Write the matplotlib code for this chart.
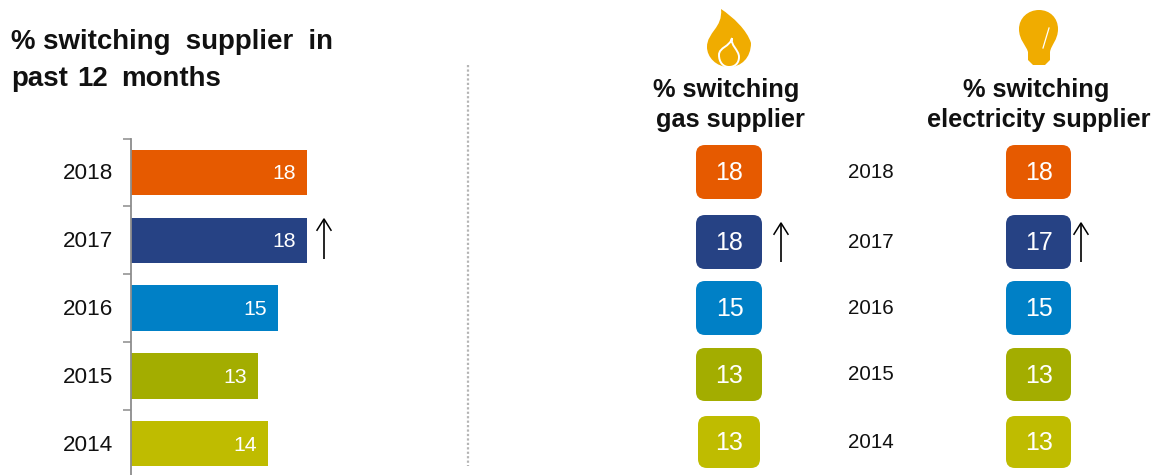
import matplotlib
matplotlib.use('Agg')
import matplotlib.pyplot as plt
from matplotlib.patches import FancyBboxPatch, PathPatch
from matplotlib.path import Path

plt.rcParams['font.family'] = ['Liberation Sans', 'DejaVu Sans']

years = ['2018', '2017', '2016', '2015', '2014']
overall = [18, 18, 15, 13, 14]
gas = [18, 18, 15, 13, 13]
electricity = [18, 17, 15, 13, 13]
colors = ['#E65A00', '#264284', '#0080C6', '#A3AD00', '#BFBC00']
icon_color = '#F0AC00'

W, H = 1161, 475
fig = plt.figure(figsize=(W / 100, H / 100), dpi=100)

# --------- Bar chart on the left ---------
# axes runs slightly past the bottom edge, same as the reference
ax = fig.add_axes([131 / W, -2.6 / H, 176 / W, 339 / H])
ax.barh(years, overall, height=0.67, color=colors)
ax.set_xlim(0, 18)
ax.set_ylim(4.5, -0.5)
for s in ['top', 'right', 'bottom']:
    ax.spines[s].set_visible(False)
ax.spines['left'].set_color('#8C8C8C')
ax.spines['left'].set_linewidth(1.3)
ax.set_xticks([])
ax.set_yticks([i - 0.5 for i in range(6)], minor=False)
ax.set_yticklabels([])
ax.tick_params(axis='y', length=5.5, color='#8C8C8C', width=1.1)
for i, y in enumerate(years):
    ax.text(-1.8, i + 0.02, y, ha='right', va='center', fontsize=16.2, color='#111111')
    ax.text(overall[i] - 1.1, i + 0.02, str(overall[i]), ha='right', va='center',
            fontsize=15.3, color='white')

# --------- Everything else in pixel coordinates ---------
ov = fig.add_axes([0, 0, 1, 1], facecolor='none')
ov.set_xlim(0, W)
ov.set_ylim(H, 0)
ov.axis('off')

ov.text(11, 42, '% switching  supplier  in', fontsize=19.9, fontweight='bold',
        ha='left', va='center', color='#111111')
# second title line has stretched word gaps
ov.text(11, 78.5, 'past', fontsize=19.9, fontweight='bold', ha='left', va='center', color='#111111')
ov.text(77, 78.5, '12', fontsize=19.9, fontweight='bold', ha='left', va='center', color='#111111')
ov.text(221, 78.5, 'months', fontsize=19.9, fontweight='bold', ha='right', va='center', color='#111111')

ov.plot([468, 468], [65, 466], color='#B5B5B5', lw=1.6, ls=(0, (1, 1)))

ov.text(726, 90, '% switching', fontsize=18.3, fontweight='bold', ha='center',
        va='center', color='#111111')
ov.text(730, 120, 'gas supplier', fontsize=18.3, fontweight='bold', ha='center',
        va='center', color='#111111')
ov.text(1036, 90, '% switching', fontsize=18.3, fontweight='bold', ha='center',
        va='center', color='#111111')
ov.text(1039, 120, 'electricity supplier', fontsize=18.3, fontweight='bold', ha='center',
        va='center', color='#111111')

box_tops = [145, 215, 281, 348, 416]
box_bottoms = [199, 269, 335, 401, 468]
year_y = [172, 242, 309, 375, 442]


def add_box(x0, x1, y0, y1, color, val):
    p = FancyBboxPatch((x0 + 9, y0 + 9), x1 - x0 - 18, y1 - y0 - 18,
                       boxstyle='round,pad=9,rounding_size=9', fc=color, ec='none')
    ov.add_patch(p)
    ov.text((x0 + x1) / 2 + 0.5, (y0 + y1) / 2 + 1.5, str(val), ha='center', va='center',
            fontsize=18, color='white')


for i, y in enumerate(years):
    gx0, gx1 = (698, 760) if i == 4 else (696, 762)
    add_box(gx0, gx1, box_tops[i], box_bottoms[i], colors[i], gas[i])
    add_box(1006, 1071, box_tops[i], box_bottoms[i], colors[i], electricity[i])
    ov.text(848, year_y[i], y, ha='left', va='center', fontsize=14.9, color='#111111')


def up_arrow(x, y0, y1, head):
    ov.plot([x, x], [y0, y1], color='black', lw=1.2, solid_capstyle='butt')
    ov.plot([x - head, x, x + head], [y1 + head * 1.6, y1, y1 + head * 1.6],
            color='black', lw=1.1)


up_arrow(324, 259, 219, 7)
up_arrow(781, 262, 223, 7)
up_arrow(1081, 262, 223, 7)

# flame icon
flame = Path(
    [(721, 9), (733, 17), (747, 30), (751, 43), (751, 58), (741, 67), (729, 67),
     (716, 67), (707, 57), (707, 47), (707, 32), (723, 28), (721, 9)],
    [Path.MOVETO] + [Path.CURVE4] * 12)
ov.add_patch(PathPatch(flame, fc=icon_color, ec='none'))
inner = Path(
    [(732, 38), (730, 45), (739, 50), (739, 57), (739, 63), (735, 67), (729, 67),
     (723, 67), (719, 62), (719, 55), (719, 47), (730, 47), (732, 38)],
    [Path.MOVETO] + [Path.CURVE4] * 12)
ov.add_patch(PathPatch(inner, fc='none', ec='white', lw=1.4))

# bulb icon
bulb = Path(
    [(1028, 52), (1026, 45), (1019, 40), (1019, 29), (1019, 18), (1028, 10), (1039, 10),
     (1050, 10), (1058, 18), (1058, 29), (1058, 40), (1051, 45), (1050, 52), (1028, 52)],
    [Path.MOVETO] + [Path.CURVE4] * 12 + [Path.LINETO])
ov.add_patch(PathPatch(bulb, fc=icon_color, ec='none'))
base = Path(
    [(1028, 51), (1050, 51), (1050, 60), (1045, 65), (1033, 65), (1028, 60), (1028, 51)],
    [Path.MOVETO] + [Path.LINETO] * 6)
ov.add_patch(PathPatch(base, fc=icon_color, ec='none'))
ov.plot([1049, 1043], [28, 48], color='white', lw=0.9)

fig.savefig('out.png', dpi=100)
